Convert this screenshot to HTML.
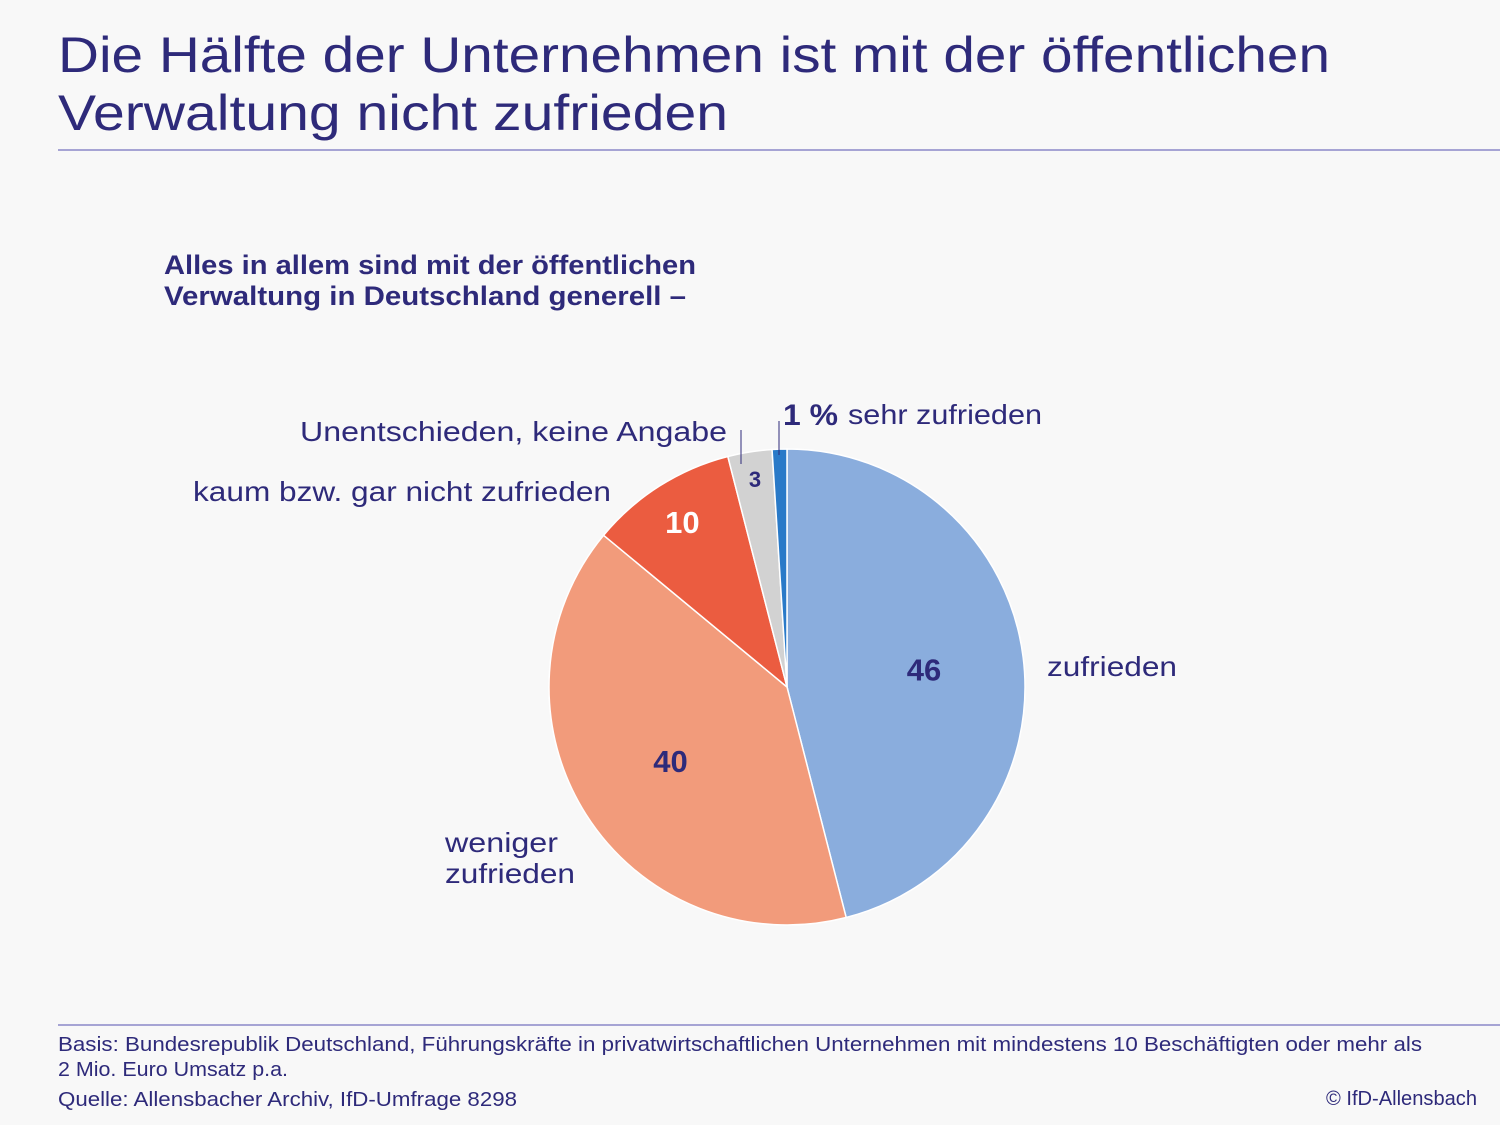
<!DOCTYPE html>
<html><head><meta charset="utf-8"><style>
html,body{margin:0;padding:0;background:#f8f8f8;}
svg{display:block;font-family:"Liberation Sans",sans-serif;}
</style></head><body>
<svg width="1500" height="1125" viewBox="0 0 1500 1125">
<rect width="1500" height="1125" fill="#f8f8f8"/>
<text x="58" y="72" font-size="50" fill="#2e2a7a" textLength="1272" lengthAdjust="spacingAndGlyphs">Die Hälfte der Unternehmen ist mit der öffentlichen</text>
<text x="58" y="130" font-size="50" fill="#2e2a7a" textLength="670" lengthAdjust="spacingAndGlyphs">Verwaltung nicht zufrieden</text>
<line x1="58" y1="150" x2="1500" y2="150" stroke="#8a88c8" stroke-width="1.5"/>
<text x="164" y="274" font-size="27" font-weight="bold" fill="#2e2a7a" textLength="532" lengthAdjust="spacingAndGlyphs">Alles in allem sind mit der öffentlichen</text>
<text x="164" y="305" font-size="27" font-weight="bold" fill="#2e2a7a" textLength="522" lengthAdjust="spacingAndGlyphs">Verwaltung in Deutschland generell –</text>
<g id="pie"></g>
<g id="labels">
<text x="1047" y="676" font-size="28" fill="#2e2a7a" textLength="130" lengthAdjust="spacingAndGlyphs">zufrieden</text>
<text x="445" y="852" font-size="28" fill="#2e2a7a" textLength="113" lengthAdjust="spacingAndGlyphs">weniger</text>
<text x="445" y="883" font-size="28" fill="#2e2a7a" textLength="130" lengthAdjust="spacingAndGlyphs">zufrieden</text>
<text x="193" y="501" font-size="28" fill="#2e2a7a" textLength="418" lengthAdjust="spacingAndGlyphs">kaum bzw. gar nicht zufrieden</text>
<text x="300" y="441" font-size="28" fill="#2e2a7a" textLength="427" lengthAdjust="spacingAndGlyphs">Unentschieden, keine Angabe</text>
<text x="783" y="425" font-size="30" font-weight="bold" fill="#2e2a7a" textLength="55" lengthAdjust="spacingAndGlyphs">1 %</text>
<text x="848" y="424" font-size="28" fill="#2e2a7a" textLength="194" lengthAdjust="spacingAndGlyphs">sehr zufrieden</text>
<line x1="741" y1="430" x2="741" y2="464" stroke="#2e2a7a" stroke-width="1"/>
<line x1="779" y1="421" x2="779" y2="455" stroke="#2e2a7a" stroke-width="1"/>
</g>
<line x1="58" y1="1025" x2="1500" y2="1025" stroke="#8a88c8" stroke-width="1.5"/>
<text x="58" y="1051" font-size="20" fill="#2e2a7a" textLength="1364" lengthAdjust="spacingAndGlyphs">Basis: Bundesrepublik Deutschland, Führungskräfte in privatwirtschaftlichen Unternehmen mit mindestens 10 Beschäftigten oder mehr als</text>
<text x="58" y="1076" font-size="20" fill="#2e2a7a" textLength="230" lengthAdjust="spacingAndGlyphs">2 Mio. Euro Umsatz p.a.</text>
<text x="58" y="1106" font-size="20" fill="#2e2a7a" textLength="459" lengthAdjust="spacingAndGlyphs">Quelle: Allensbacher Archiv, IfD-Umfrage 8298</text>
<text x="1477" y="1105" font-size="20" fill="#2e2a7a" text-anchor="end" textLength="151" lengthAdjust="spacingAndGlyphs">© IfD-Allensbach</text>
</svg>
<script>
const categories = ["zufrieden", "weniger zufrieden", "kaum bzw. gar nicht zufrieden", "Unentschieden, keine Angabe", "sehr zufrieden"];
const values = [46, 40, 10, 3, 1];
const valueLabels = ["46", "40", "10", "3", ""];
const colors = ["#8aaddd", "#f29b7b", "#eb5c40", "#d2d2d2", "#2a7ac8"];
const labelColors = ["#2e2a7a", "#2e2a7a", "#ffffff", "#2e2a7a", "#2e2a7a"];
const cx = 787, cy = 687, r = 238;
const total = values.reduce((a, b) => a + b, 0);
const g = document.getElementById('pie');
const ns = "http://www.w3.org/2000/svg";
function pt(a, rad) { return [cx + rad * Math.sin(a), cy - rad * Math.cos(a)]; }
let acc = 0;
values.forEach((v, i) => {
  const a0 = acc / total * 2 * Math.PI;
  acc += v;
  const a1 = acc / total * 2 * Math.PI;
  const p0 = pt(a0, r), p1 = pt(a1, r);
  const large = (a1 - a0) > Math.PI ? 1 : 0;
  const path = document.createElementNS(ns, 'path');
  path.setAttribute('d', `M${cx},${cy} L${p0[0]},${p0[1]} A${r},${r} 0 ${large} 1 ${p1[0]},${p1[1]} Z`);
  path.setAttribute('fill', colors[i]);
  path.setAttribute('stroke', '#ffffff');
  path.setAttribute('stroke-width', '1.5');
  
  
  g.appendChild(path);
  if (valueLabels[i]) {
    const mid = (a0 + a1) / 2;
    const rr = v < 5 ? r * 0.86 : (v < 15 ? r * 0.82 : r * 0.58);
    const p = pt(mid, rr);
    const t = document.createElementNS(ns, 'text');
    t.setAttribute('x', p[0]);
    t.setAttribute('y', p[1] + (v < 5 ? 2 : 11));
    t.setAttribute('text-anchor', 'middle');
    t.setAttribute('font-size', v < 5 ? '22' : '31');
    t.setAttribute('font-weight', 'bold');
    t.setAttribute('fill', labelColors[i]);
    t.textContent = valueLabels[i];
    
    
    g.appendChild(t);
  }
});
</script>
</body></html>
